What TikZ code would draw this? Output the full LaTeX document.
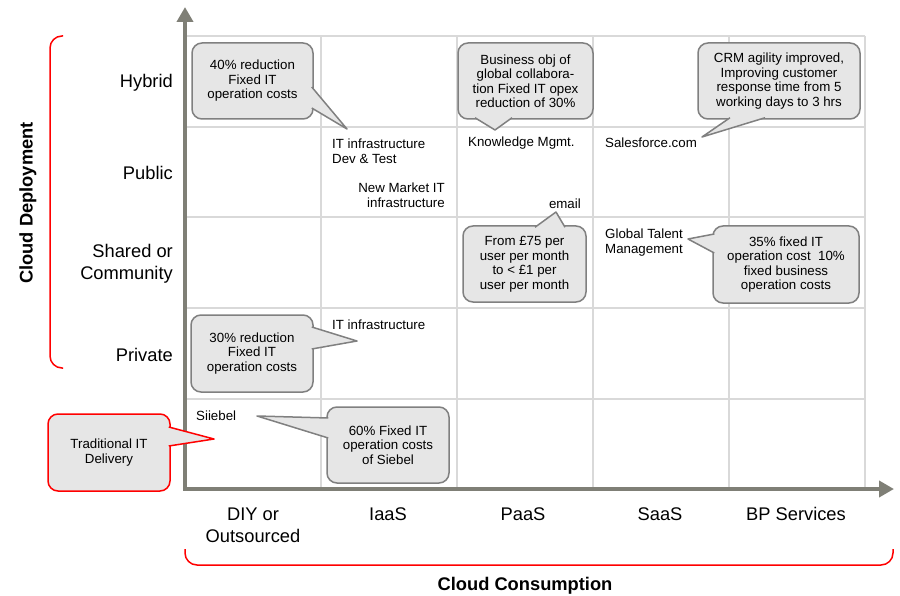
\documentclass[tikz,border=0pt]{standalone}
\usepackage{fontspec}
\setmainfont{Liberation Sans}
\usepackage{tikz}
\usetikzlibrary{arrows.meta, calc}
\definecolor{cgaxis}{HTML}{7F7F76}
\definecolor{cggrid}{HTML}{D9D9D9}
\definecolor{cgfill}{HTML}{E6E6E6}
\definecolor{cgline}{HTML}{808080}
\definecolor{cgred}{HTML}{FF0000}

\begin{document}
\begin{tikzpicture}[x=1pt, y=-1pt,
        every node/.style={inner sep=0pt},
        note/.style={rounded corners=10pt, fill=cgfill, draw=cgline, line width=1.5pt, align=center,
          font=\fontsize{13.3}{14.5}\selectfont},
        tail/.style={fill=cgfill, draw=cgline, line width=1.5pt, line join=round},
        cell/.style={font=\fontsize{13.3}{15.5}\selectfont},
        lbl/.style={font=\fontsize{18.3}{22}\selectfont},
        axisline/.style={draw=cgaxis, line width=4pt,
          {Triangle[length=15pt,width=16pt]}-{Triangle[length=15pt,width=16pt]}},
        gridline/.style={draw=cggrid, line width=2pt},
        redbrace/.style={draw=cgred, line width=1.5pt, rounded corners=12pt}]
        \useasboundingbox (0,0) rectangle (900,596);
        % grid
        \foreach \gx in {321,457,593,729,865}
          \draw[gridline] (\gx,36) -- (\gx,489);
        \foreach \gy in {36,127,217,308,399}
          \draw[gridline] (185,\gy) -- (865,\gy);
        % axes
        \coordinate (origin) at (185,489);
        \coordinate (ytop) at (185,7);
        \coordinate (xend) at (894,489);
        \draw[axisline] (ytop) -- (origin) -- (xend);
        % brackets
        \draw[redbrace] (63,36) -- (50,36) -- (50,368) -- (63,368);
        \draw[redbrace] (185,549) -- (185,565) -- (893,565) -- (893,549);
        % axis labels
        \node[lbl, anchor=east] (hybrid) at (173,83) {Hybrid};
        \node[lbl, anchor=east] (public) at (173,173) {Public};
        \node[lbl, anchor=east, align=right] (shared) at (173,264) {Shared or\\Community};
        \node[lbl, anchor=east] (private) at (173,355) {Private};
        \node[lbl, align=center] (diy) at (253,525) {DIY or\\Outsourced};
        \node[lbl] (iaas) at (388,514) {IaaS};
        \node[lbl] (paas) at (523,514) {PaaS};
        \node[lbl] (saas) at (660,514) {SaaS};
        \node[lbl] (bps) at (796,514) {BP Services};
        \node[lbl] (consumption) at (525,586) {\bfseries Cloud Consumption};
        \node[lbl, rotate=90] (deployment) at (28,203) {\bfseries Cloud Deployment};
        % cell entries
        \node[cell, anchor=west, align=left] (itdev) at (332,151) {IT infrastructure\\Dev \& Test};
        \node[cell, anchor=east, align=right] (newmkt) at (445,195) {New Market IT\\infrastructure};
        \node[cell, anchor=west] (km) at (468,143) {Knowledge Mgmt.};
        \node[cell, anchor=east] (email) at (581,204) {email};
        \node[cell, anchor=west] (sfdc) at (605,143) {Salesforce.com};
        \node[cell, anchor=west, align=left] (gtm) at (605,242.5) {Global Talent\\Management};
        \node[cell, anchor=west] (itpriv) at (332,325) {IT infrastructure};
        \node[cell, anchor=west] (siebel) at (196,416) {Siiebel};
        % callouts
        \node[note, minimum width=121pt, minimum height=76pt] (c40) at (252.5,81)
          {40\% reduction\\Fixed IT\\operation costs};
        \node[note, minimum width=135pt, minimum height=76pt] (cbiz) at (525.5,81)
          {Business obj of\\global collabora-\\tion Fixed IT opex\\reduction of 30\%};
        \node[note, minimum width=162pt, minimum height=76pt] (ccrm) at (779,81)
          {CRM agility improved,\\Improving customer\\response time from 5\\working days to 3 hrs};
        \node[note, minimum width=123pt, minimum height=76pt] (c75) at (524.5,264)
          {From £75 per\\user per month\\to < £1 per\\user per month};
        \node[note, minimum width=146pt, minimum height=77pt] (c35) at (786,264.5)
          {35\% fixed IT\\operation cost~ 10\%\\fixed business\\operation costs};
        \node[note, minimum width=122pt, minimum height=77pt] (c30) at (252,353.5)
          {30\% reduction\\Fixed IT\\operation costs};
        \node[note, minimum width=122pt, minimum height=76pt] (c60) at (388,445)
          {60\% Fixed IT\\operation costs\\of Siebel};
        \node[note, draw=cgred, minimum width=122pt, minimum height=77pt] (ctrad) at (109,452.5)
          {Traditional IT\\Delivery};
        % tails
        \coordinate (t40) at (347,129);
        \coordinate (tbiz) at (495,130);
        \coordinate (tcrm) at (702,137);
        \coordinate (t75) at (556,212);
        \coordinate (t35) at (688,239);
        \coordinate (t30) at (357,341);
        \coordinate (t60) at (257,416);
        \coordinate (ttrad) at (214,439);
        \filldraw[tail] ($(c40.east)+(-2,6)$) -- (t40) -- ($(c40.east)+(-2,27)$);
        \filldraw[tail] ($(cbiz.south)+(-50.5,-2)$) -- (tbiz) -- ($(cbiz.south)+(-13.5,-2)$);
        \filldraw[tail] ($(ccrm.south)+(-49,-2)$) -- (tcrm) -- ($(ccrm.south)+(-14,-2)$);
        \filldraw[tail] ($(c75.north)+(10.5,2)$) -- (t75) -- ($(c75.north)+(40.5,2)$);
        \filldraw[tail] ($(c35.west)+(2,-30.5)$) -- (t35) -- ($(c35.west)+(2,-11.5)$);
        \filldraw[tail] ($(c30.east)+(-2,-26.5)$) -- (t30) -- ($(c30.east)+(-2,-4.5)$);
        \filldraw[tail] ($(c60.west)+(2,-27)$) -- (t60) -- ($(c60.west)+(2,-7)$);
        \filldraw[tail, draw=cgred] ($(ctrad.east)+(-2,-25.5)$) -- (ttrad) -- ($(ctrad.east)+(-2,-6.5)$);
      \end{tikzpicture}
\end{document}
